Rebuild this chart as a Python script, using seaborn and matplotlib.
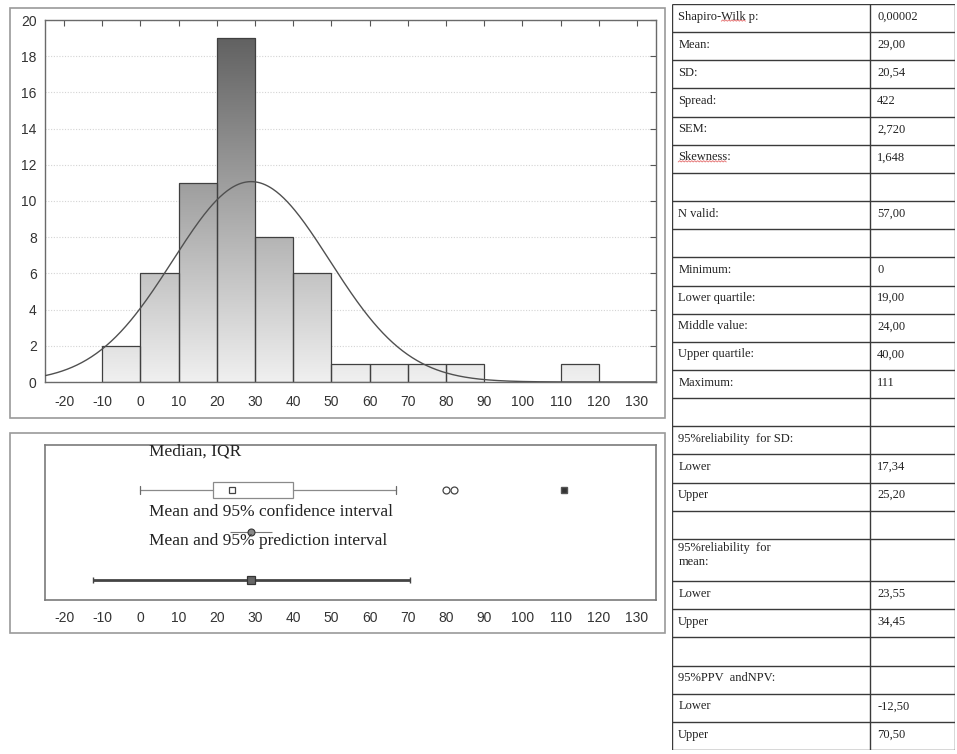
import numpy as np
import pandas as pd
import matplotlib
matplotlib.use("Agg")
import matplotlib.pyplot as plt
from matplotlib.patches import Rectangle
from matplotlib.lines import Line2D
from matplotlib.colors import LinearSegmentedColormap
import seaborn as sns

# ---- data -----------------------------------------------------------------
bin_edges = [-10, 0, 10, 20, 30, 40, 50, 60, 70, 80, 90, 100, 110, 120]
bin_counts = [2, 6, 11, 19, 8, 6, 1, 1, 1, 1, 0, 0, 1]

n_valid = 57
mean_val = 29.00
sd_val = 20.54
q1, median, q3 = 19.0, 24.0, 40.0
whisker_low, whisker_high = 0.0, 67.0
outliers = [80, 82]
extremes = [111]
ci_mean = (23.55, 34.45)
pred_interval = (-12.50, 70.50)

x_ticks = list(range(-20, 131, 10))
y_ticks = list(range(0, 21, 2))

table_labels = ["Shapiro-Wilk p:", "Mean:", "SD:", "Spread:", "SEM:", "Skewness:", "",
                "N valid:", "", "Minimum:", "Lower quartile:", "Middle value:",
                "Upper quartile:", "Maximum:", "", "95%reliability  for SD:", "Lower",
                "Upper", "", "95%reliability  for\nmean:", "Lower", "Upper", "",
                "95%PPV  andNPV:", "Lower", "Upper"]
table_values = ["0,00002", "29,00", "20,54", "422", "2,720", "1,648", "", "57,00", "",
                "0", "19,00", "24,00", "40,00", "111", "", "", "17,34", "25,20", "",
                "", "23,55", "34,45", "", "", "-12,50", "70,50"]
row_heights = [1.5 if "\n" in lab else 1.0 for lab in table_labels]

# ---- style ----------------------------------------------------------------
sns.set_style("white")
plt.rcParams["font.family"] = ["Liberation Sans", "DejaVu Sans"]
plt.rcParams["axes.unicode_minus"] = False
SERIF = ["Liberation Serif", "DejaVu Serif"]

W, H = 957, 754
fig = plt.figure(figsize=(W / 100, H / 100), dpi=100)
fig.patch.set_facecolor("white")


def fig_rect(x0, y0, x1, y1):
    """pixel box (top-left origin) -> figure fraction rect"""
    return [x0 / W, (H - y1) / H, (x1 - x0) / W, (y1 - y0) / H]


XLIM = (-25, 135)

# ---- panel frames -----------------------------------------------------------
for (x0, y0, x1, y1) in [(10, 8, 665, 418), (10, 433, 665, 633)]:
    fig.add_artist(Rectangle((x0 / W, (H - y1) / H), (x1 - x0) / W, (y1 - y0) / H,
                             transform=fig.transFigure, fill=False,
                             ec="#9a9a9a", lw=1.2))

# ---- histogram ----------------------------------------------------------------
ax = fig.add_axes(fig_rect(45, 20, 656, 382))
centers = [(a + b) / 2 for a, b in zip(bin_edges[:-1], bin_edges[1:])]
hist_df = pd.DataFrame({"value": centers, "count": bin_counts})
sns.histplot(data=hist_df, x="value", weights="count", bins=bin_edges, ax=ax,
             stat="count", color="#bbbbbb", edgecolor="#404040", linewidth=0.9,
             alpha=1)

grad_cmap = LinearSegmentedColormap.from_list("bargrad", ["#f0f0f0", "#5a5a5a"])
grad = np.linspace(0, 1, 256).reshape(-1, 1)
for p in list(ax.patches):
    if p.get_height() <= 0:
        p.set_visible(False)
        continue
    p.set_facecolor((0, 0, 0, 0))
    p.set_zorder(2)
    im = ax.imshow(grad, cmap=grad_cmap, origin="lower", aspect="auto",
                   extent=[XLIM[0], XLIM[1], 0, 20], zorder=1.5,
                   interpolation="bilinear")
    im.set_clip_path(p)

# fitted normal curve scaled to counts
xs = np.linspace(XLIM[0], XLIM[1], 500)
bw = bin_edges[1] - bin_edges[0]
ys = n_valid * bw / (sd_val * np.sqrt(2 * np.pi)) * np.exp(-0.5 * ((xs - mean_val) / sd_val) ** 2)
sns.lineplot(x=xs, y=ys, ax=ax, color="#505050", lw=1.0, zorder=3)

ax.set_xlim(*XLIM)
ax.set_ylim(0, 20)
ax.set_xticks(x_ticks)
ax.set_yticks(y_ticks)
ax.set_xlabel("")
ax.set_ylabel("")
ax.yaxis.grid(True, color="#d4d4d4", lw=0.8, ls=(0, (1, 1.5)))
ax.set_axisbelow(True)
ax.tick_params(direction="in", length=4, width=0.8, color="#555555",
               top=True, right=True, labelsize=10, labelcolor="#333333")
ax.tick_params(axis="x", pad=9)
ax.tick_params(axis="y", pad=6)
for s in ax.spines.values():
    s.set_color("#6a6a6a")
    s.set_linewidth(1.0)

# ---- box / interval panel ---------------------------------------------------------
bx = fig.add_axes(fig_rect(45, 445, 656, 600))
bx.set_xlim(*XLIM)
bx.set_ylim(0, 1)
Y_BOX, Y_CI, Y_PRED = 0.71, 0.44, 0.13

stats = [dict(med=median, q1=q1, q3=q3, whislo=whisker_low, whishi=whisker_high,
              fliers=[])]
bx.bxp(stats, positions=[Y_BOX], widths=0.1, orientation="horizontal",
       showfliers=False, patch_artist=True, manage_ticks=False,
       boxprops=dict(facecolor="white", edgecolor="#8a8a8a", lw=0.9),
       whiskerprops=dict(color="#8a8a8a", lw=0.9),
       capprops=dict(color="#6a6a6a", lw=0.9),
       medianprops=dict(visible=False), capwidths=0.05)
bx.plot([median], [Y_BOX], marker="s", ms=5, mfc="white", mec="#444444", mew=0.9, ls="none")
bx.plot(outliers, [Y_BOX] * len(outliers), marker="o", ms=5, mfc="none", mec="#444444",
        mew=0.9, ls="none")
bx.plot(extremes, [Y_BOX] * len(extremes), marker="s", ms=5, mfc="#333333", mec="#555555",
        ls="none")

bx.hlines(Y_CI, ci_mean[0], ci_mean[1], color="#777777", lw=0.8)
bx.plot([mean_val], [Y_CI], marker="o", ms=5, mfc="#888888", mec="#333333", mew=0.8)

bx.hlines(Y_PRED, pred_interval[0], pred_interval[1], color="#444444", lw=2)
bx.plot(list(pred_interval), [Y_PRED] * 2, marker="|", ms=5, color="#444444", ls="none")
bx.plot([mean_val], [Y_PRED], marker="s", ms=6, mfc="#666666", mec="#333333", mew=0.9)

txt_kw = dict(transform=bx.transAxes, family=SERIF, fontsize=12.5, color="#222222",
              va="center", ha="left")
bx.text(0.170, 0.955, "Median, IQR", **txt_kw)
bx.text(0.170, 0.568, "Mean and 95% confidence interval", **txt_kw)
bx.text(0.170, 0.381, "Mean and 95% prediction interval", **txt_kw)

bx.set_xticks(x_ticks)
bx.set_yticks([])
bx.tick_params(axis="x", length=0, pad=8, labelsize=10, labelcolor="#333333")
for s in bx.spines.values():
    s.set_color("#7a7a7a")
    s.set_linewidth(1.2)

# ---- statistics table ------------------------------------------------------------
tx = fig.add_axes(fig_rect(672, 4, 955, 750))
total = sum(row_heights)
tx.set_xlim(0, 1)
tx.set_ylim(total, 0)
tx.axis("off")
COL = 0.70
line_kw = dict(color="#3a3a3a", lw=1.0, solid_capstyle="butt")
tx.plot([0, 0], [0, total], **line_kw)
tx.plot([COL, COL], [0, total], **line_kw)
tx.plot([1, 1], [0, total], **line_kw)
ypos = 0.0
tx.plot([0, 1], [0, 0], **line_kw)
cell_texts = []
for lab, val, h in zip(table_labels, table_values, row_heights):
    if h > 1:
        ty, va = ypos + 0.12, "top"
    else:
        ty, va = ypos + h * 0.45, "center"
    t = tx.text(0.022, ty, lab, family=SERIF, fontsize=9, color="#222222", va=va,
                ha="left", linespacing=1.25)
    cell_texts.append(t)
    tx.text(COL + 0.025, ty, val, family=SERIF, fontsize=9, color="#222222", va=va,
            ha="left")
    ypos += h
    tx.plot([0, 1], [ypos, ypos], **line_kw)

# red spell-check squiggles under flagged words
fig.canvas.draw()
renderer = fig.canvas.get_renderer()


def squiggle_under(text_artist, prefix, word):
    probe = tx.text(0, 0, prefix, family=SERIF, fontsize=9)
    pw = probe.get_window_extent(renderer).width if prefix else 0.0
    probe.set_text(word)
    ww = probe.get_window_extent(renderer).width
    probe.remove()
    bb = text_artist.get_window_extent(renderer)
    x0 = bb.x0 + pw
    xsq = np.arange(x0, x0 + ww, 1.5)
    ysq = bb.y0 + 1.5 + np.where(np.arange(len(xsq)) % 2 == 0, 0.0, 1.2)
    fig.add_artist(Line2D(xsq, ysq, transform=None, color="#e05a5a", lw=0.7, alpha=0.8))


squiggle_under(cell_texts[0], "Shapiro-", "Wilk")
squiggle_under(cell_texts[5], "", "Skewness")

fig.savefig("out.png", dpi=100, facecolor="white")
